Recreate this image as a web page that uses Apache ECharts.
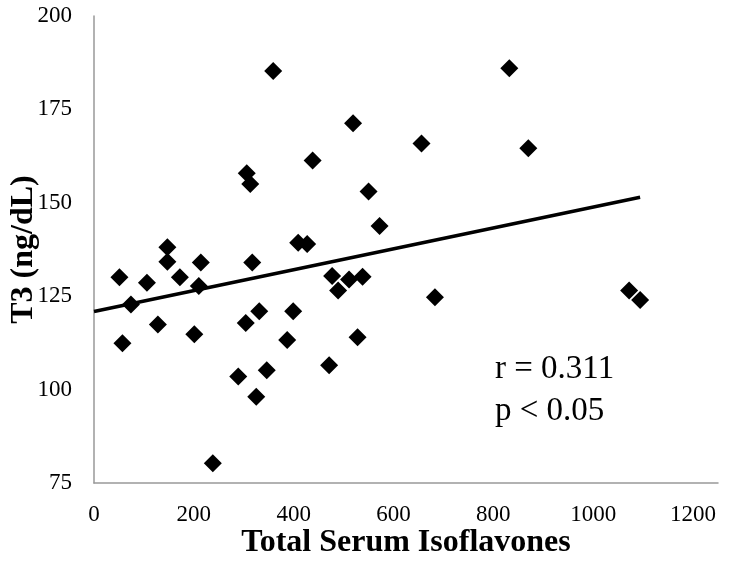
<!DOCTYPE html>
<html>
<head>
<meta charset="utf-8">
<script src="https://cdn.jsdelivr.net/npm/echarts@6/dist/echarts.min.js"></script>
<style>
html, body { margin: 0; padding: 0; background: #fff; }
#main { width: 750px; height: 563px; }
</style>
</head>
<body>
<div id="main"></div>
<script>
// isoflavone (x) vs T3 (y)
const isoflavones = [51, 74, 57, 106, 128, 147, 147, 172, 201, 214, 210, 238,
  289, 304, 325, 331, 317, 346, 387, 399, 409, 427, 471, 477, 489, 511, 538, 528,
  359, 519, 438, 306, 313, 550, 572, 656, 832, 870, 683, 1072, 1094];
const t3 = [130.1, 122.8, 112.4, 128.6, 117.4, 138.1, 134.2, 130.1, 114.8, 134.0, 127.7, 80.3,
  103.5, 117.8, 98.1, 121.0, 134.0, 105.2, 113.3, 121.0, 139.3, 139.0, 106.5, 130.4, 126.5, 129.5, 130.2, 114.0,
  185.3, 171.3, 161.3, 157.9, 155.0, 153.0, 143.8, 165.9, 186.0, 164.6, 124.7, 126.5, 124.0];
// linear trend line end points
const trendX = [0, 1094];
const trendY = [120.9, 151.5];
const statLines = ['r = 0.311', 'p < 0.05'];

const font = "'Liberation Serif', 'Times New Roman', serif";
let myChart = echarts.init(document.getElementById('main'));
let points = isoflavones.map((x, i) => [x, t3[i]]);
let trend = trendX.map((x, i) => [x, trendY[i]]);

let option = {
    animation: false,
    grid: { left: 94, right: 32, top: 16, bottom: 80, containLabel: false, outerBoundsMode: 'none' },
    xAxis: {
        type: 'value',
        min: 0,
        max: 1250,
        interval: 200,
        name: 'Total Serum Isoflavones',
        nameLocation: 'middle',
        nameGap: 44,
        nameMoveOverlap: false,
        nameTextStyle: { fontFamily: font, fontSize: 32, fontWeight: 'bold', color: '#000' },
        axisLine: { lineStyle: { color: '#999', width: 1.5 } },
        axisTick: { show: false },
        splitLine: { show: false },
        axisLabel: {
            margin: 20,
            fontFamily: font,
            fontSize: 23,
            color: '#000',
            formatter: v => (v % 200 === 0 ? String(v) : '')
        }
    },
    yAxis: {
        type: 'value',
        min: 75,
        max: 200,
        interval: 25,
        name: 'T3 (ng/dL)',
        nameLocation: 'middle',
        nameGap: 54,
        nameMoveOverlap: false,
        nameTextStyle: { fontFamily: font, fontSize: 32, fontWeight: 'bold', color: '#000' },
        axisLine: { show: true, lineStyle: { color: '#999', width: 1.5 } },
        axisTick: { show: false },
        splitLine: { show: false },
        axisLabel: { margin: 22, fontFamily: font, fontSize: 23, color: '#000' }
    },
    series: [
        {
            type: 'line',
            data: trend,
            symbol: 'none',
            lineStyle: { color: '#000', width: 3.5 },
            z: 1
        },
        {
            type: 'scatter',
            data: points,
            symbol: 'diamond',
            symbolSize: 18,
            itemStyle: { color: '#000', opacity: 1 },
            z: 2
        }
    ],
    graphic: [
        {
            type: 'text',
            left: 495,
            top: 348,
            style: {
                text: statLines.join('\n'),
                font: '33px ' + font,
                lineHeight: 42,
                fill: '#000'
            }
        }
    ]
};
myChart.setOption(option);
</script>
</body>
</html>
